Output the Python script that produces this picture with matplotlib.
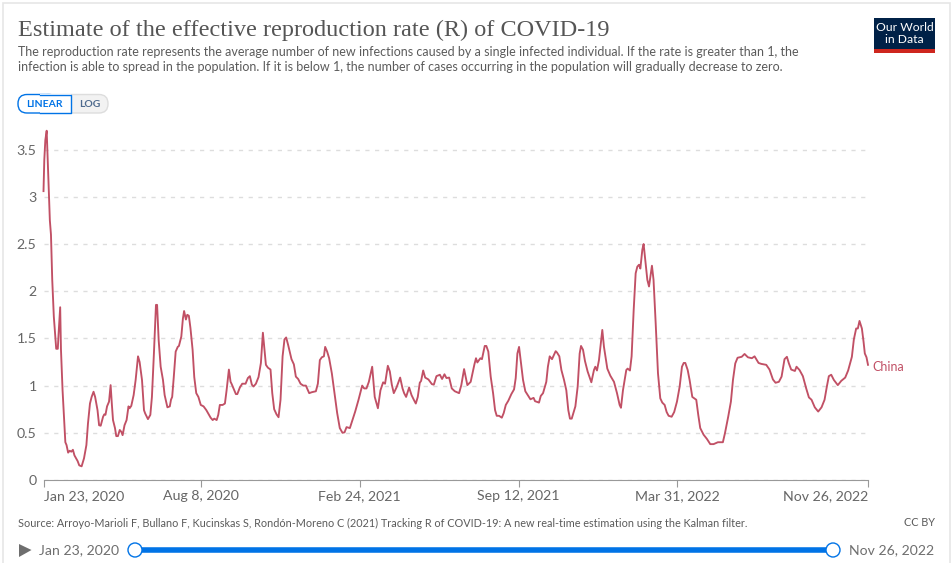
import matplotlib
matplotlib.use("Agg")
import matplotlib.pyplot as plt
from matplotlib.patches import FancyBboxPatch, Rectangle, Polygon, Circle

# days since Jan 23, 2020
days = [0, 1, 2.3, 4, 5, 7, 8, 9.4, 11, 13, 16, 18, 19, 21, 22, 24, 26, 27.5, 29, 31, 33, 35, 37, 39, 43, 45, 48, 51, 54, 56,
        58.5, 60.6, 63, 65, 68, 70, 72, 75, 76.5, 78, 80, 82.5, 84.5, 86, 87.5, 90, 91.6, 93.7, 96, 98, 99.6, 102, 104.6, 107, 108.4, 110.5, 113.5, 116, 119, 121,
        124, 126.5, 128, 131.5, 134.5, 136.5, 139, 141.6, 143, 145, 147.5, 150.4, 152.5, 156, 159, 160.5, 162, 164, 166.4, 169, 170.5, 173.5, 175.5, 177, 179.3, 181, 183, 185, 187.7, 189.8,
        192.3, 195, 198, 201.5, 205, 207.4, 210.4, 213, 215, 218, 220, 222, 225.5, 228.4, 230.5, 233.4, 235.5, 236.7, 239.7, 242.2, 244, 247.2, 250.2, 254.4, 257.3, 259.8, 262.3, 264.4, 267.4, 270.7,
        273.7, 276.2, 277.9, 280, 282.5, 285.8, 288, 290.4, 293.4, 295.9, 298.4, 301, 303.4, 305.5, 308, 312.2, 315.2, 317.7, 320.6, 323.6, 327, 330.3, 334.5, 337.8, 342.9, 345.4, 347.9, 350.4,
        353, 354.6, 357.1, 359.6, 363, 366.4, 369.7, 373, 376.4, 379, 381.5, 385.7, 389, 392.4, 396.6, 401.2, 403.7, 406.6, 409.6, 413.8, 417, 421, 424.2, 427.6, 430, 433.5, 436, 438.5, 441, 444.4,
        449, 452, 454, 456.5, 460.3, 463.3, 466.2, 468.7, 471.2, 473.7, 475.4, 478, 480.5, 484.6, 489, 491.4, 494.7, 499, 501.8, 504.8, 507.3, 510.7, 514, 517.8, 523.2, 526, 529.5, 533.6, 537.8, 542.5,
        544.5, 546.2, 550, 552, 555.5, 557.5, 560, 563, 566, 568.5, 570.6, 573.5, 577, 579.4, 582, 585.2, 589, 592.4, 594.5, 596.6, 598.7, 601.2, 603.7, 606.6, 609.6, 613, 617, 618.8, 623.8, 626,
        628.9, 633, 635, 637.3, 640.2, 644.8, 646.5, 649.4, 652, 655.3, 658.2, 660.7, 662.8, 665, 669.6, 672.5, 675, 676.7, 679.2, 681.7, 685, 689.7, 693, 694.7, 696.8, 699.3, 701.4, 703.5, 705.6, 709.8,
        713.6, 718.2, 722, 725.3, 727, 729.5, 733.7, 735.4, 738.3, 740.4, 743, 745.5, 747.6, 749.7, 751.4, 753.9, 755.5, 757.6, 760.2, 762.3, 764, 766, 768, 770.7, 773.6, 776.5, 779, 782, 784.5, 787,
        790.8, 794, 797.5, 800.9, 803.8, 806, 808, 811, 813.4, 816.8, 821.8, 824.3, 826.8, 831, 835.2, 839.4, 843.6, 849, 855.3, 857.9, 862, 865.4, 868, 870.9,
        873.8, 879, 882.6, 886.8, 891.8, 895.2, 900.2, 903.6, 909.9, 914, 918.3, 921.6, 925.8, 929.2, 932.9, 935.9, 938.4, 941.3, 946, 948, 951.8, 956, 960.2, 963.6, 966.9, 971, 975.3, 979.5, 983.3, 986.2,
        988.7, 991.7, 995, 1000, 1004.3, 1009.3, 1013, 1017.7, 1020.2, 1023.1, 1025.2, 1027.3, 1030.3, 1032.4, 1034, 1036.1, 1038]
r_china = [3.06, 3.39, 3.6, 3.7, 3.46, 2.97, 2.75, 2.6, 2.12, 1.73, 1.39, 1.39, 1.55, 1.83, 1.38, 0.95, 0.64, 0.4, 0.37, 0.29, 0.31, 0.3, 0.32, 0.26, 0.2, 0.155, 0.145, 0.23, 0.37, 0.6,
           0.81, 0.88, 0.935, 0.88, 0.74, 0.58, 0.575, 0.67, 0.695, 0.69, 0.78, 0.83, 1.005, 0.81, 0.635, 0.55, 0.465, 0.465, 0.53, 0.51, 0.475, 0.58, 0.635, 0.78, 0.76, 0.785, 0.9, 1.06, 1.31, 1.25,
           1.06, 0.74, 0.705, 0.645, 0.69, 0.88, 1.34, 1.855, 1.855, 1.48, 1.2, 1.06, 0.9, 0.77, 0.78, 0.85, 0.88, 1.09, 1.36, 1.41, 1.42, 1.52, 1.71, 1.79, 1.7, 1.75, 1.74, 1.61, 1.38, 1.09,
           0.92, 0.88, 0.795, 0.78, 0.74, 0.705, 0.66, 0.635, 0.65, 0.635, 0.69, 0.795, 0.795, 0.81, 0.95, 1.17, 1.04, 1.02, 0.96, 0.91, 0.91, 0.98, 1.02, 1.02, 1.08, 1.1, 1.01, 0.99, 1.02, 1.09,
           1.24, 1.56, 1.41, 1.22, 1.19, 1.17, 0.92, 0.75, 0.695, 0.665, 0.85, 1.31, 1.49, 1.51, 1.43, 1.28, 1.225, 1.095, 1.07, 1.02, 1.0, 1.0, 0.92, 0.93, 0.94, 1.02, 1.27, 1.3,
           1.31, 1.41, 1.36, 1.29, 1.13, 0.92, 0.71, 0.55, 0.5, 0.505, 0.56, 0.55, 0.635, 0.725, 0.85, 1.0, 0.97, 0.97, 1.04, 1.2, 0.88, 0.76, 0.95, 1.035, 1.02, 1.21, 1.15, 1.01, 0.92, 0.98,
           1.085, 0.97, 0.92, 0.88, 0.98, 0.9, 0.85, 0.81, 0.88, 1.03, 1.05, 1.16, 1.085, 1.065, 1.015, 1.01, 1.1, 1.115, 1.07, 1.12, 1.08, 1.085, 0.97, 0.94, 0.92, 1.005, 1.175, 1.005, 1.04, 1.225,
           1.29, 1.245, 1.29, 1.28, 1.42, 1.42, 1.36, 1.095, 0.92, 0.74, 0.68, 0.68, 0.66, 0.71, 0.795, 0.84, 0.91, 0.96, 1.08, 1.34, 1.41, 1.235, 1.06, 0.94, 0.9, 0.855, 0.87, 0.835, 0.82, 0.89,
           0.92, 1.04, 1.2, 1.31, 1.28, 1.365, 1.35, 1.31, 1.165, 1.06, 0.95, 0.74, 0.65, 0.65, 0.78, 0.99, 1.34, 1.42, 1.38, 1.26, 1.15, 1.035, 1.165, 1.2, 1.16, 1.27, 1.43, 1.59, 1.41, 1.18,
           1.105, 1.04, 0.92, 0.795, 0.765, 0.95, 1.165, 1.18, 1.16, 1.31, 1.8, 2.19, 2.26, 2.28, 2.24, 2.44, 2.5, 2.33, 2.12, 2.05, 2.15, 2.27, 2.12, 1.66, 1.13, 0.865, 0.82, 0.795, 0.72, 0.68,
           0.67, 0.72, 0.83, 0.99, 1.2, 1.24, 1.24, 1.165, 1.06, 0.88, 0.85, 0.69, 0.55, 0.48, 0.435, 0.38, 0.38, 0.4, 0.4, 0.495, 0.67, 0.83, 1.06, 1.235,
           1.295, 1.305, 1.335, 1.3, 1.29, 1.31, 1.24, 1.23, 1.22, 1.17, 1.065, 1.03, 1.04, 1.095, 1.28, 1.305, 1.235, 1.17, 1.155, 1.2, 1.165, 1.1, 0.97, 0.875, 0.85, 0.77, 0.725, 0.77, 0.85, 0.99,
           1.1, 1.115, 1.06, 1.005, 1.05, 1.085, 1.16, 1.305, 1.49, 1.605, 1.605, 1.685, 1.605, 1.465, 1.34, 1.3, 1.22]

x_ticks = [0, 198, 398, 598, 798, 1038]
x_labels = ["Jan 23, 2020", "Aug 8, 2020", "Feb 24, 2021", "Sep 12, 2021", "Mar 31, 2022", "Nov 26, 2022"]
y_ticks = [0, 0.5, 1, 1.5, 2, 2.5, 3, 3.5]
y_labels = ["0", "0.5", "1", "1.5", "2", "2.5", "3", "3.5"]

title = "Estimate of the effective reproduction rate (R) of COVID-19"
subtitle = ("The reproduction rate represents the average number of new infections caused by a single infected individual. If the rate is greater than 1, the\n"
            "infection is able to spread in the population. If it is below 1, the number of cases occurring in the population will gradually decrease to zero.")
source = "Source: Arroyo-Marioli F, Bullano F, Kucinskas S, Rondón-Moreno C (2021) Tracking R of COVID-19: A new real-time estimation using the Kalman filter."

W, H = 952, 563
LINE = "#c15065"
GREY = "#5b5b5b"
BLUE = "#0073e6"

plt.rcParams["font.family"] = ["Lato", "DejaVu Sans"]

fig = plt.figure(figsize=(W / 100, H / 100), dpi=100)

# furniture goes on an overlay in pixel coordinates
bg = fig.add_axes([0, 0, 1, 1])
bg.set_xlim(0, W)
bg.set_ylim(H, 0)
bg.axis("off")
bg.add_patch(Rectangle((2.5, 2.5), W - 5, H, fc="white", ec="#e6e6e6", lw=1.2))

bg.text(18, 30, title, family=["Liberation Serif"], fontsize=17.5, color="#555555", va="center")
bg.text(18, 59.5, subtitle, fontsize=9.0, color=GREY, va="center", linespacing=1.26)

# linear / log toggle
bg.add_patch(FancyBboxPatch((40, 94.5), 68, 18.5, boxstyle="round,pad=0,rounding_size=9", fc="#f2f2f2", ec="#dddddd", lw=1))
bg.add_patch(FancyBboxPatch((18, 94.5), 40, 18.5, boxstyle="round,pad=0,rounding_size=9", fc="white", ec=BLUE, lw=1))
bg.add_patch(Rectangle((40, 94), 30.5, 19.5, fc="white", ec="none"))
bg.plot([40, 70.5, 70.5, 40], [94.5, 94.5, 113, 113], color=BLUE, lw=1)
bg.text(44.5, 104.3, "LINEAR", fontsize=7.5, color=BLUE, ha="center", va="center", fontweight="bold")
bg.text(90, 104.3, "LOG", fontsize=7.5, color="#4e6a8e", ha="center", va="center", fontweight="bold")

# logo
bg.add_patch(Rectangle((874, 18), 61, 35, fc="#002147", ec="none"))
bg.add_patch(Rectangle((874, 49), 61, 4, fc="#ce261e", ec="none"))
bg.text(904.5, 33.7, "Our World\nin Data", fontsize=8.7, color="white", ha="center", va="center", linespacing=1.1)

bg.text(18, 523, source, fontsize=7.85, color=GREY, va="center")
bg.text(935, 523, "CC BY", fontsize=7.85, color=GREY, ha="right", va="center")

# timeline slider
bg.add_patch(Polygon([(19, 544), (31.5, 550), (19, 557)], fc="#6e6e6e", ec="none"))
bg.text(39, 550, "Jan 23, 2020", fontsize=10.1, color="#6e6e6e", va="center")
bg.text(934, 550, "Nov 26, 2022", fontsize=10.1, color="#6e6e6e", ha="right", va="center")
bg.plot([135, 833], [550, 550], color=BLUE, lw=4, solid_capstyle="butt")
for cx in (135, 833):
    bg.add_patch(Circle((cx, 550), 7, fc="white", ec=BLUE, lw=1, zorder=5))

# main chart
px_top = 480 - 3.7 * 94.4
ax = fig.add_axes([43.5 / W, (H - 480) / H, 824.5 / W, (480 - px_top) / H])
ax.patch.set_alpha(0)
ax.plot(days, r_china, color=LINE, lw=1.35, clip_on=False, zorder=3, solid_joinstyle="round")
ax.set_xlim(0, 1038)
ax.set_ylim(0, 3.7)

for s in ("top", "right", "left"):
    ax.spines[s].set_visible(False)
ax.spines["bottom"].set_color("#999999")

ax.set_yticks(y_ticks)
ax.set_yticklabels(y_labels, fontsize=10.2, color="#666666")
ax.tick_params(axis="y", length=0, pad=5)
ax.yaxis.grid(True, color="#dddddd", linestyle=(0, (3, 4)), lw=1)
ax.set_axisbelow(True)

ax.set_xticks(x_ticks)
ax.set_xticklabels(x_labels, fontsize=10.2, color="#666666")
ax.tick_params(axis="x", length=5, color="#999999", pad=2)
labels = ax.get_xticklabels()
labels[0].set_ha("left")
labels[-1].set_ha("right")

ax.text(1038 + 5, 1.2, "China", color=LINE, fontsize=9.0, va="center", clip_on=False)

fig.savefig("out.png", dpi=100)
